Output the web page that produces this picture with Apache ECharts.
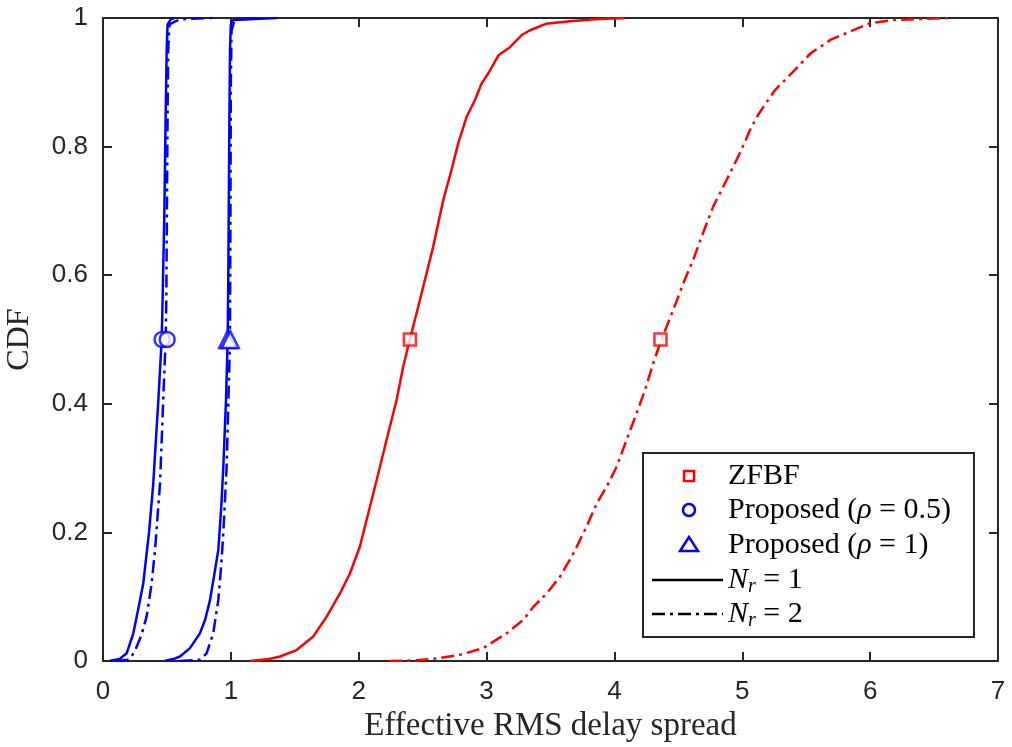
<!DOCTYPE html>
<html>
<head>
<meta charset="utf-8">
<script src="https://cdn.jsdelivr.net/npm/echarts@6/dist/echarts.min.js"></script>
<style>html,body{margin:0;padding:0;background:#fff}#c{width:1012px;height:747px}</style>
</head>
<body>
<div id="c"></div>
<script>
// ---- data ----
const xTicks = [0, 1, 2, 3, 4, 5, 6, 7];
const yTicks = [0, 0.2, 0.4, 0.6, 0.8, 1];

const prop05_Nr1 = [[0.05,0],[0.13,0.003],[0.185,0.012],[0.237,0.043],[0.28,0.085],[0.315,0.121],[0.36,0.2],[0.393,0.276],[0.433,0.406],[0.459,0.5],[0.466,0.56],[0.48,0.7],[0.49,0.85],[0.498,0.95],[0.505,0.99],[0.53,0.998],[0.56,1]];
const prop05_Nr2 = [[0.1,0],[0.2,0.002],[0.224,0.007],[0.263,0.022],[0.3,0.04],[0.341,0.069],[0.38,0.12],[0.407,0.173],[0.446,0.276],[0.471,0.406],[0.49,0.5],[0.495,0.56],[0.5,0.7],[0.505,0.85],[0.51,0.95],[0.52,0.99],[0.6,0.998],[0.85,1]];
const prop1_Nr1 = [[0.48,0],[0.55,0.003],[0.602,0.007],[0.68,0.02],[0.758,0.043],[0.8,0.065],[0.837,0.095],[0.875,0.14],[0.902,0.173],[0.925,0.24],[0.941,0.302],[0.962,0.406],[0.975,0.5],[0.98,0.6],[0.987,0.8],[0.993,0.95],[1.0,0.99],[1.02,0.997],[1.36,1]];
const prop1_Nr2 = [[0.6,0],[0.76,0.002],[0.81,0.012],[0.862,0.043],[0.902,0.095],[0.925,0.15],[0.941,0.199],[0.967,0.302],[0.98,0.4],[0.988,0.458],[0.993,0.5],[0.997,0.7],[1.0,0.9],[1.005,0.98],[1.03,0.997],[1.2,1]];
const zfbf_Nr1 = [[1.15,0],[1.3,0.003],[1.384,0.007],[1.514,0.017],[1.644,0.038],[1.749,0.069],[1.853,0.105],[1.931,0.136],[2.009,0.178],[2.061,0.219],[2.14,0.281],[2.218,0.344],[2.296,0.406],[2.348,0.458],[2.40,0.5],[2.478,0.561],[2.504,0.582],[2.582,0.644],[2.661,0.717],[2.726,0.764],[2.778,0.805],[2.843,0.846],[2.908,0.872],[2.961,0.898],[3.013,0.914],[3.093,0.942],[3.185,0.955],[3.278,0.974],[3.34,0.981],[3.464,0.991],[3.649,0.995],[3.85,0.998],[4.08,1]];
const zfbf_Nr2 = [[2.24,0],[2.45,0.001],[2.609,0.004],[2.8,0.01],[2.973,0.02],[3.156,0.043],[3.287,0.064],[3.365,0.084],[3.47,0.105],[3.574,0.131],[3.678,0.167],[3.782,0.209],[3.861,0.245],[3.939,0.271],[4.017,0.302],[4.095,0.344],[4.173,0.385],[4.238,0.421],[4.303,0.463],[4.368,0.5],[4.46,0.546],[4.538,0.587],[4.616,0.624],[4.682,0.66],[4.773,0.707],[4.877,0.748],[4.981,0.79],[5.07,0.83],[5.132,0.852],[5.256,0.888],[5.41,0.919],[5.534,0.945],[5.689,0.966],[5.843,0.979],[5.998,0.992],[6.183,0.997],[6.615,1]];

const zfbfMarkers = [[2.40,0.5],[4.36,0.5]];
const prop05Markers = [[0.462,0.5],[0.502,0.5]];
const prop1Markers = [[0.975,0.5],[0.995,0.5]];

const legendLabels = ['ZFBF', 'Proposed ({g|ρ} = 0.5)', 'Proposed ({g|ρ} = 1)', '{n|N}{s|r} = 1', '{n|N}{s|r} = 2'];

// ---- styling ----
const AX = '#262626';
const RED = '#ff0000', BLUE = '#0000ff';
const DASHDOT = [13, 5, 3, 5];
const LW = 2.5;
const SANS = 'Liberation Sans, Arial, Helvetica, sans-serif';
const SERIF = 'Liberation Serif, Times New Roman, serif';

function axisCommon(showLabel, margin) {
  return {
    axisLine: { show: true, onZero: false, lineStyle: { color: AX, width: 2 } },
    axisTick: { show: true, inside: true, length: 9, lineStyle: { color: AX, width: 2 } },
    splitLine: { show: false },
    axisLabel: { show: showLabel, color: AX, fontFamily: SANS, fontSize: 26, margin: margin || 8 }
  };
}

const chart = echarts.init(document.getElementById('c'), null, { renderer: 'canvas' });

function lineSeries(name, data, color, dashed) {
  return {
    name, type: 'line', data, xAxisIndex: 0, yAxisIndex: 0,
    showSymbol: false, symbol: 'none', smooth: false, animation: false,
    lineStyle: { color, width: LW, type: dashed ? DASHDOT : 'solid' },
    z: 3
  };
}
function markerSeries(name, data, color, symbol, size) {
  return {
    name, type: 'scatter', data, symbol, symbolSize: size, animation: false,
    itemStyle: { color: '#fff', borderColor: color, borderWidth: 2.5 },
    z: 4
  };
}

const legX = 643, legY = 453, legW = 331, legH = 184;
const rowY = [476, 510, 545, 580, 614];
const legend = [
  { type: 'rect', shape: { x: legX, y: legY, width: legW, height: legH }, style: { fill: '#fff', stroke: AX, lineWidth: 2 }, z: 10 },
  { type: 'rect', shape: { x: 684, y: rowY[0] - 5, width: 10, height: 10 }, style: { fill: '#fff', stroke: RED, lineWidth: 2.5 }, z: 11 },
  { type: 'circle', shape: { cx: 689, cy: rowY[1], r: 6 }, style: { fill: '#fff', stroke: BLUE, lineWidth: 2.5 }, z: 11 },
  { type: 'polygon', shape: { points: [[689, rowY[2] - 8], [680, rowY[2] + 6], [698, rowY[2] + 6]] }, style: { fill: '#fff', stroke: BLUE, lineWidth: 2.5 }, z: 11 },
  { type: 'line', shape: { x1: 652, y1: rowY[3], x2: 723, y2: rowY[3] }, style: { stroke: '#000', lineWidth: 2.5 }, z: 11 },
  { type: 'line', shape: { x1: 652, y1: rowY[4], x2: 723, y2: rowY[4] }, style: { stroke: '#000', lineWidth: 2.5, lineDash: DASHDOT }, z: 11 }
];
const LF = 30;
const rich = {
  g: { fontFamily: SERIF, fontStyle: 'italic', fontSize: LF, fill: '#000' },
  n: { fontFamily: SERIF, fontStyle: 'italic', fontSize: LF, fill: '#000' },
  s: { fontFamily: SERIF, fontStyle: 'italic', fontSize: 20, fill: '#000', padding: [14, 0, 0, 0] }
};
legendLabels.forEach((t, i) => {
  legend.push({
    type: 'text', x: 728, y: rowY[i], z: 11,
    style: { text: t, fontFamily: SERIF, fontSize: LF, fill: '#000', verticalAlign: 'middle', align: 'left', rich }
  });
});

const option = {
  backgroundColor: '#fff',
  animation: false,
  grid: { left: 103, right: 14, top: 18, bottom: 86, containLabel: false, outerBoundsMode: 'none' },
  xAxis: [
    Object.assign(axisCommon(true, 18), {
      type: 'value', position: 'bottom', min: 0, max: 7, interval: 1,
      name: 'Effective RMS delay spread', nameLocation: 'middle', nameGap: 47,
      nameTextStyle: { fontFamily: SERIF, fontSize: 33, color: AX }
    }),
    Object.assign(axisCommon(false), { type: 'value', position: 'top', min: 0, max: 7, interval: 1 })
  ],
  yAxis: [
    Object.assign(axisCommon(true, 15), {
      type: 'value', position: 'left', min: 0, max: 1, interval: 0.2,
      name: 'CDF', nameLocation: 'middle', nameGap: 67, nameRotate: 90,
      nameTextStyle: { fontFamily: SERIF, fontSize: 32, color: AX }
    }),
    Object.assign(axisCommon(false), { type: 'value', position: 'right', min: 0, max: 1, interval: 0.2 })
  ],
  series: [
    lineSeries('ZFBF Nr=1', zfbf_Nr1, RED, false),
    lineSeries('ZFBF Nr=2', zfbf_Nr2, RED, true),
    lineSeries('Proposed 0.5 Nr=1', prop05_Nr1, BLUE, false),
    lineSeries('Proposed 0.5 Nr=2', prop05_Nr2, BLUE, true),
    lineSeries('Proposed 1 Nr=1', prop1_Nr1, BLUE, false),
    lineSeries('Proposed 1 Nr=2', prop1_Nr2, BLUE, true),
    markerSeries('ZFBF', zfbfMarkers, RED, 'rect', 12),
    markerSeries('Proposed (ρ = 0.5)', prop05Markers, BLUE, 'circle', 15),
    markerSeries('Proposed (ρ = 1)', prop1Markers, BLUE, 'triangle', 17)
  ],
  graphic: legend
};
chart.setOption(option);
</script>
</body>
</html>
